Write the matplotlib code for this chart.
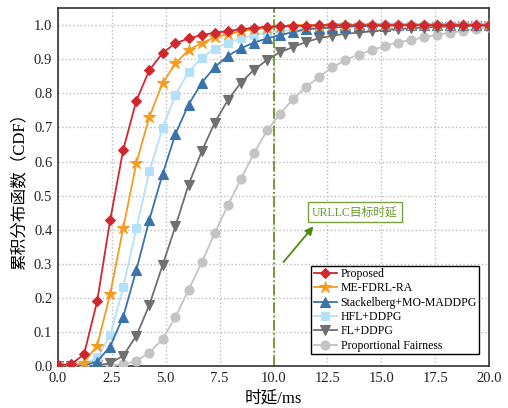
import numpy as np
import matplotlib
matplotlib.use("Agg")
import matplotlib.pyplot as plt

plt.rcParams['font.family'] = ['Liberation Serif', 'Noto Sans CJK SC', 'DejaVu Sans']

# x grid of marker positions (ms)
x = [0.00, 0.61, 1.21, 1.82, 2.42, 3.03, 3.64, 4.24, 4.85, 5.45, 6.06, 6.67,
     7.27, 7.88, 8.48, 9.09, 9.70, 10.30, 10.91, 11.52, 12.12, 12.73, 13.33,
     13.94, 14.55, 15.15, 15.76, 16.36, 16.97, 17.58, 18.18, 18.79, 19.39, 20.00]

proposed = [0.003, 0.005, 0.034, 0.190, 0.427, 0.635, 0.779, 0.868, 0.918, 0.947,
            0.961, 0.971, 0.978, 0.983, 0.988, 0.992, 0.995, 0.997, 0.998, 0.999,
            1.0, 1.0, 1.0, 1.0, 1.0, 1.0, 1.0, 1.0, 1.0, 1.0, 1.0, 1.0, 1.0, 1.0]
me_fdrl = [0.0, 0.001, 0.010, 0.060, 0.210, 0.405, 0.596, 0.731, 0.829, 0.888,
           0.927, 0.948, 0.964, 0.974, 0.982, 0.988, 0.992, 0.995, 0.997, 0.998,
           0.999, 1.0, 1.0, 1.0, 1.0, 1.0, 1.0, 1.0, 1.0, 1.0, 1.0, 1.0, 1.0, 1.0]
stackelberg = [0.0, 0.0, 0.002, 0.013, 0.057, 0.145, 0.282, 0.429, 0.562, 0.681,
               0.767, 0.831, 0.877, 0.910, 0.932, 0.949, 0.961, 0.971, 0.980, 0.988,
               0.991, 0.993, 0.995, 0.997, 0.998, 0.999, 1.0, 1.0, 1.0, 1.0, 1.0,
               1.0, 1.0, 1.0]
hfl = [0.0, 0.0, 0.004, 0.025, 0.090, 0.231, 0.405, 0.571, 0.697, 0.796,
       0.863, 0.905, 0.931, 0.949, 0.961, 0.971, 0.978, 0.983, 0.987, 0.990,
       0.993, 0.995, 0.997, 0.998, 0.999, 1.0, 1.0, 1.0, 1.0, 1.0, 1.0, 1.0, 1.0, 1.0]
fl = [0.0, 0.0, 0.0, 0.002, 0.008, 0.030, 0.089, 0.179, 0.295, 0.410,
      0.532, 0.630, 0.714, 0.780, 0.831, 0.869, 0.898, 0.921, 0.936, 0.951,
      0.962, 0.969, 0.975, 0.978, 0.982, 0.986, 0.989, 0.991, 0.993, 0.995,
      0.996, 0.997, 0.998, 0.999]
pf = [0.0, 0.0, 0.0, 0.0, 0.001, 0.005, 0.015, 0.039, 0.079, 0.143,
      0.224, 0.304, 0.390, 0.471, 0.548, 0.624, 0.691, 0.740, 0.784, 0.819,
      0.849, 0.876, 0.898, 0.914, 0.926, 0.939, 0.949, 0.957, 0.964, 0.972,
      0.978, 0.983, 0.989, 0.994]

labels = ['Proposed', 'ME-FDRL-RA', 'Stackelberg+MO-MADDPG', 'HFL+DDPG', 'FL+DDPG',
          'Proportional Fairness']
series = [proposed, me_fdrl, stackelberg, hfl, fl, pf]
colors = ['#d0282e', '#f39c1f', '#3a72ab', '#b3e0fa', '#707070', '#c4c4c4']
markers = ['D', '*', '^', 's', 'v', 'o']
msizes = [5.5, 9, 7, 6, 7, 6.5]
zorders = [8, 7, 6, 5, 4, 3]

fig = plt.figure(figsize=(5.08, 4.08), dpi=100)
ax = fig.add_axes([0.114, 0.103, 0.849, 0.877])

for yv, lab, c, m, ms, z in zip(series, labels, colors, markers, msizes, zorders):
    ax.plot(x, yv, color=c, marker=m, markersize=ms, linewidth=1.3, label=lab,
            zorder=z, markeredgecolor=c, markeredgewidth=0.8)

ax.axvline(10, color='#5b8c1a', linestyle='-.', linewidth=1.2, zorder=2)

ax.text(13.78, 0.451, 'URLLC目标时延', ha='center', va='center',
        fontsize=8.5, color='#6a9a2a',
        bbox=dict(boxstyle='square,pad=0.35', fc='white', ec='#7aa040', lw=1.0),
        zorder=10)
ax.annotate('', xy=(11.85, 0.41), xytext=(10.46, 0.305),
            arrowprops=dict(arrowstyle='-|>', color='#4f8a10', lw=1.3,
                            mutation_scale=12, shrinkA=0, shrinkB=0), zorder=10)

ax.set_xlim(0, 20)
ax.set_ylim(0, 1.05)
ax.set_xticks([0, 2.5, 5, 7.5, 10, 12.5, 15, 17.5, 20])
ax.set_xticklabels(['0.0', '2.5', '5.0', '7.5', '10.0', '12.5', '15.0', '17.5', '20.0'])
ax.set_yticks(np.arange(0, 1.01, 0.1))
ax.set_yticklabels(['%.1f' % v for v in np.arange(0, 1.01, 0.1)])
ax.tick_params(direction='in', length=0, labelsize=10.5, pad=4, colors='#222222')
ax.grid(True, linestyle=':', color='#bbbbbb', linewidth=1.0)
for s in ax.spines.values():
    s.set_color('#333333')
    s.set_linewidth(1.2)

ax.set_xlabel('时延/ms', fontsize=12, labelpad=4)
ax.set_ylabel('累积分布函数（CDF）', fontsize=12, labelpad=5)

leg = ax.legend(loc='lower right', bbox_to_anchor=(0.977, 0.033), borderaxespad=0,
                fontsize=8.5, frameon=True, fancybox=False, edgecolor='black',
                framealpha=1, handlelength=2.0, borderpad=0.2, labelspacing=0.2,
                handletextpad=0.3)
leg.get_frame().set_linewidth(1.0)
leg.set_zorder(20)

fig.savefig('out.png', dpi=100)
